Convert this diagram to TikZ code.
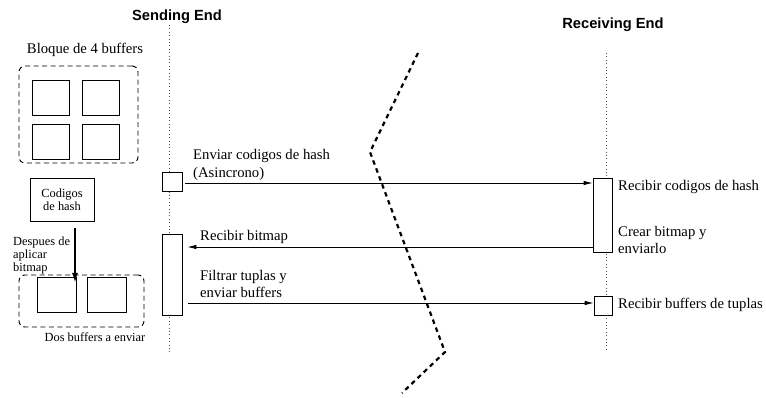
\documentclass[tikz,border=0pt]{standalone}
\usepackage{fontspec}
\setmainfont{Liberation Serif}
\newfontfamily\titlefont{Liberation Sans}
\usetikzlibrary{arrows.meta}

\newcommand{\lbl}{\fontsize{14.7}{17.6}\selectfont}
\newcommand{\smalllbl}{\fontsize{12.4}{12.6}\selectfont}

\tikzset{
  act/.style={draw,fill=white,inner sep=0pt,line width=0.8pt},
  buf/.style={draw,inner sep=0pt,line width=0.8pt,minimum width=37pt,minimum height=35pt},
  grp/.style={draw,dash pattern=on 5pt off 3.5pt,rounded corners=6pt,inner sep=0pt,line width=0.9pt},
  life/.style={draw=black!70,line width=0.7pt,dash pattern=on 0.8pt off 2.6pt},
  msg/.style={line width=0.8pt,-{Latex[length=9pt,width=4.5pt]}},
  txt/.style={inner sep=0pt,align=left,font=\lbl},
  head/.style={inner sep=0pt,font=\titlefont\bfseries\lbl}
}

\begin{document}
\begin{tikzpicture}[x=1pt,y=-1pt]
\useasboundingbox (0,0) rectangle (766,398);

\node[head] (sendT) at (177,17) {Sending End};
\node[head] (recvT) at (613,25) {Receiving End};

\draw[life] (169,25) -- (169,352);          % lifeline sender
\draw[life] (606,53) -- (606,352);          % lifeline receiver

% sender side
\node[act,minimum width=20pt,minimum height=19pt] (hashS) at (172,181.5) {};
\node[act,minimum width=20pt,minimum height=81pt] (bitS) at (172,274.5) {};

% receiver side
\node[act,minimum width=19pt,minimum height=74pt] (hashR) at (602.5,215) {};
\node[act,minimum width=18pt,minimum height=19pt] (tupR) at (603,305.5) {};

% messages
\coordinate (bmR) at (593,247);
\coordinate (ftS) at (182,303);
\draw[msg] (hashS.east) ++(3,1.5) coordinate (hs) -- (hs -| hashR.west);
\draw[msg] (bmR) -- ([xshift=5pt]bmR -| bitS.east);
\draw[msg] ([xshift=6pt]ftS) -- (ftS -| tupR.west);

\node[txt,anchor=west] (m1) at (193,165) {Enviar codigos de hash\\(Asincrono)};
\node[txt,anchor=west] (m2) at (200,237) {Recibir bitmap};
\node[txt,anchor=west] (m3) at (200,284) {Filtrar tuplas y\\enviar buffers};
\node[txt,anchor=west] (r1) at (618,187) {Recibir codigos de hash};
\node[txt,anchor=west] (r2) at (618,240) {Crear bitmap y\\enviarlo};
\node[txt,anchor=west] (r3) at (618,305) {Recibir buffers de tuplas};

% the wide area network cut
\draw[line width=2.2pt,dash pattern=on 4.5pt off 4pt] (418,53) -- (370,152) -- (445,352) -- (402,393);

% buffers on the left
\node[txt] (bloque) at (85,50) {Bloque de 4 buffers};
\node[grp,minimum width=119pt,minimum height=97pt] (grp4) at (78.5,114.5) {};
\node[buf] (b1) at (50.5,97.5) {};
\node[buf] (b2) at (100.5,97.5) {};
\node[buf] (b3) at (50.5,142) {};
\node[buf] (b4) at (100.5,142) {};

\node[draw,line width=0.8pt,minimum width=64pt,minimum height=43pt,inner sep=0pt,align=center,font=\smalllbl] (hash) at (62,199.5) {Codigos\\de hash};

\coordinate (apl) at (75,228);
\coordinate (aplEnd) at (75,283);
\draw[line width=1.8pt,-{Latex[length=10pt,width=6pt]}] (apl) -- (aplEnd);
\node[inner sep=0pt,align=left,anchor=north west,font=\smalllbl] (desp) at (13,237) {Despues de\\aplicar\\bitmap};

\node[grp,minimum width=125pt,minimum height=52pt] (grp2) at (81.5,301) {};
\node[buf,minimum width=39pt] (b5) at (56.5,294.5) {};
\node[buf,minimum width=39pt] (b6) at (106.5,294.5) {};
\node[inner sep=0pt,font=\smalllbl] (dos) at (95,337) {Dos buffers a enviar};

\end{tikzpicture}
\end{document}
